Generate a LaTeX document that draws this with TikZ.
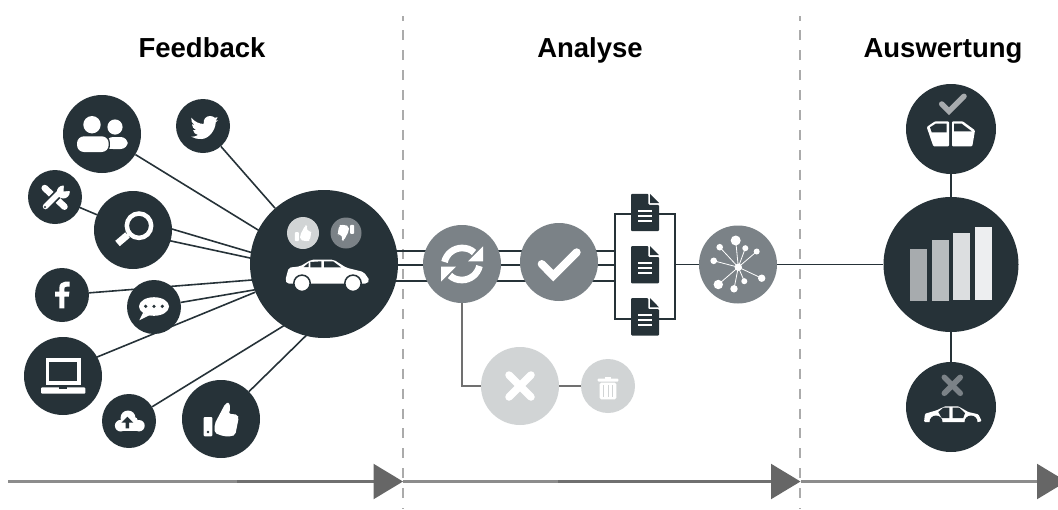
\documentclass[tikz,border=0pt]{standalone}
\usepackage{fontspec}
\setmainfont{Liberation Sans}
\usetikzlibrary{arrows.meta,backgrounds}

\definecolor{slate}{HTML}{263238}
\definecolor{midgrey}{HTML}{7B8287}
\definecolor{litegrey}{HTML}{D1D4D5}
\definecolor{rulegrey}{HTML}{ABABAB}
\definecolor{flowgrey}{HTML}{8C8C8C}
\definecolor{flowdark}{HTML}{707070}
\definecolor{headgrey}{HTML}{666666}
\definecolor{bar1}{HTML}{A7ABAE}
\definecolor{bar2}{HTML}{B8BCBE}
\definecolor{bar3}{HTML}{DCDEE0}
\definecolor{bar4}{HTML}{EDEEF0}

\tikzset{
  big/.style={circle,fill=slate,inner sep=0pt,minimum size=78pt},
  small/.style={circle,fill=slate,inner sep=0pt,minimum size=54pt},
  wire/.style={draw=slate,line width=1.6pt},
  greywire/.style={draw=flowdark,line width=1.6pt},
  divider/.style={draw=rulegrey,line width=1.7pt,dash pattern=on 10pt off 9.9pt,dash phase=5.5pt},
  flow/.style={draw=flowgrey,line width=2.2pt},
  flowend/.style={draw=flowdark,line width=2.2pt,-{Triangle[length=29.5pt,width=35pt,fill=headgrey,color=headgrey]}},
  heading/.style={anchor=base,font=\fontsize{27.5}{27.5}\selectfont\bfseries,text=black},
  paper/.style={inner sep=0pt,minimum width=28pt,minimum height=37pt}
}

\newcommand{\thumbicon}{
  \fill[rounded corners=1pt] (-17.3,-2) rectangle (-8.7,17.3);
  \fill[rounded corners=2pt] (-6.3,4.7) -- (4.3,-15.3) -- (7.7,-17) -- (9.6,-11) -- (7.7,-5.3)
    -- (16.7,-4.3) -- (17.7,-1) -- (14.3,15.7) -- (11,17.3) -- (2.7,17.3) -- (-6.3,14) -- cycle;
}

\newcommand{\docicon}{
  \fill[slate,rounded corners=1pt] (-14,-18.7) -- (3.3,-18.7) -- (3.3,-7.7) -- (14,-7.7)
    -- (14,18.7) -- (-14,18.7) -- cycle;
  \fill[slate] (5,-18.7) -- (14,-9.5) -- (5,-9.5) -- cycle;
  \draw[white,line width=2.2pt] (-7,-1.7) -- (7,-1.7);
  \draw[white,line width=2.2pt] (-7,3.3) -- (7,3.3);
  \draw[white,line width=2.2pt] (-7,8.3) -- (7,8.3);
}

\newcommand{\synchalf}{
  \draw[white,line width=6.7pt] (-17.5,-2) .. controls (-15.5,-10.5) and (-8,-16) .. (0,-16)
    .. controls (5,-16) and (9,-14.5) .. (12,-11.5);
  \fill[white] (21,-17.7) -- (21,-2.7) -- (6,-2.7) -- cycle;
}

\begin{document}
\begin{tikzpicture}[x=1pt,y=-1pt]
  \useasboundingbox (0,0) rectangle (1058,509);
  \clip (0,0) rectangle (1058,509);

  \node [heading] (feedback) at (202,57.5) {Feedback};
  \node [heading] (analyse) at (590,57.5) {Analyse};
  \node [heading] (auswertung) at (943,57.5) {Auswertung};

  % feedback sources
  \node [big] (people) at (102,134) {};
  \node [small] (twitter) at (203,126) {};
  \node [small] (tools) at (55,197) {};
  \node [big] (search) at (133,230) {};
  \node [small] (facebook) at (62,295) {};
  \node [small] (chat) at (154,307) {};
  \node [big] (laptop) at (63,376) {};
  \node [small] (cloud) at (129,421) {};
  \node [big] (thumb) at (221,419) {};
  \node [circle,fill=slate,inner sep=0pt,minimum size=148pt] (car) at (324,264) {};
  \node [circle,fill=litegrey,inner sep=0pt,minimum size=32pt] (carup) at (303,233) {};
  \node [circle,fill=midgrey,inner sep=0pt,minimum size=31pt] (cardown) at (346,233) {};

  % analysis
  \node [big,fill=midgrey] (sync) at (462,264) {};
  \node [big,fill=midgrey] (check) at (559,262) {};
  \node [paper] (doc1) at (645,212.5) {};
  \node [paper] (doc2) at (645,264.7) {};
  \node [paper] (doc3) at (645,316.8) {};
  \node [big,fill=midgrey] (network) at (738,264.5) {};
  \node [big,fill=litegrey] (reject) at (520,386) {};
  \node [small,fill=litegrey] (trash) at (608,386) {};

  % results
  \node [circle,fill=slate,inner sep=0pt,minimum size=135pt] (bars) at (951,264.5) {};
  \node [circle,fill=slate,inner sep=0pt,minimum size=90pt] (doors) at (951,129) {};
  \node [circle,fill=slate,inner sep=0pt,minimum size=90pt] (wreck) at (951,407) {};

  \coordinate (brk1) at (615,251);
  \coordinate (brk2) at (615,265);
  \coordinate (brk3) at (615,281);
  \coordinate (brktl) at (615,214);
  \coordinate (brkbr) at (675,319);
  \coordinate (brkr) at (675,264.5);
  \coordinate (hitpeople) at (324,270.5);
  \coordinate (srcsearch1) at (133,217.5);
  \coordinate (srcsearch2) at (133,232.8);
  \coordinate (hitsearch1) at (270,258);
  \coordinate (hitsearch2) at (270,262.3);
  \coordinate (hitfacebook) at (324,274.3);
  \coordinate (hitchat) at (324,278);
  \coordinate (srclaptop) at (63,371);
  \coordinate (hitcloud) at (324,301);
  \coordinate (hitthumb) at (324,318);

  \coordinate (line1a) at (8,481.5);
  \coordinate (line1b) at (237,481.5);
  \coordinate (line1c) at (403,481.5);
  \coordinate (line2b) at (558,481.5);
  \coordinate (line2c) at (800.5,481.5);
  \coordinate (line3c) at (1066.5,481.5);
  \coordinate (cut1a) at (403,16);
  \coordinate (cut1b) at (403,509);
  \coordinate (cut2a) at (800,16);
  \coordinate (cut2b) at (800,509);

  \begin{scope}[on background layer]
    \draw [divider] (cut1a) -- (cut1b);
    \draw [divider] (cut2a) -- (cut2b);

    \draw [wire] (people) -- (hitpeople);
    \draw [wire] (twitter) -- (car);
    \draw [wire] (tools) -- (search);
    \draw [wire] (srcsearch1) -- (hitsearch1);
    \draw [wire] (srcsearch2) -- (hitsearch2);
    \draw [wire] (facebook) -- (hitfacebook);
    \draw [wire] (chat) -- (hitchat);
    \draw [wire] (srclaptop) -- (car);
    \draw [wire] (cloud) -- (hitcloud);
    \draw [wire] (thumb) -- (hitthumb);

    \draw [wire] (car |- brk1) -- (brk1);
    \draw [wire] (car |- brk2) -- (brk2);
    \draw [wire] (car |- brk3) -- (brk3);
    \draw [wire] (brktl) rectangle (brkbr);
    \draw [wire] (brkr) -- (network);
    \draw [wire] (network) -- (bars);
    \draw [greywire] (sync) |- (reject);
    \draw [greywire] (reject) -- (trash);
    \draw [wire] (doors) -- (bars);
    \draw [wire] (bars) -- (wreck);
  \end{scope}

  \draw [flow] (line1a) -- (line1b);
  \draw [flowend] (line1b) -- (line1c);
  \draw [flow] (line1c) -- (line2b);
  \draw [flowend] (line2b) -- (line2c);
  \draw [flowend,draw=flowgrey] (line2c) -- (line3c);

  % people
  \begin{scope}[shift={(people)}]
    \fill[white] (-10,-9.3) circle (8.7);
    \fill[white] (13,-7) circle (7.6);
    \fill[white,rounded corners=7pt] (4,15) -- (25.7,15) -- (25.7,3) -- (4,3) -- cycle;
    \fill[white] (4,7) rectangle (12,15);
    \fill[slate,rounded corners=7pt] (-26,19) rectangle (7.9,1.3);
    \fill[white,rounded corners=7pt] (-25,18) -- (6.7,18) -- (6.7,2.3) -- (-25,2.3) -- cycle;
  \end{scope}

  % twitter
  \begin{scope}[shift={(twitter)}]
    \fill[white] (-11.7,-8.3) .. controls (-8,-4) and (-4,-2.2) .. (0.7,-2)
      .. controls (0,-7) and (3,-10) .. (7.3,-10) .. controls (9,-10) and (10.5,-9.2) .. (11.7,-8.3)
      -- (14.7,-8.7) -- (12.7,-5.3) -- (15,-5.8) -- (12.7,-3.6)
      .. controls (12.5,4) and (6,13) .. (-1.7,13) .. controls (-6,13) and (-9,12.3) .. (-11.7,10.7)
      .. controls (-9,10.8) and (-7,10.3) .. (-5,9) .. controls (-7.5,8.7) and (-9.5,6.5) .. (-10,4)
      -- (-7,4) .. controls (-9.5,3) and (-11,0.5) .. (-11,-1.7) -- (-8.3,-1)
      .. controls (-11,-3) and (-12.5,-5.5) .. (-11.7,-8.3) -- cycle;
  \end{scope}

  % tools
  \begin{scope}[shift={(tools)}]
    \draw[white,line width=6.5pt,line cap=round] (-10.3,-9) -- (9.5,9.7);
    \draw[slate,line width=9pt] (-7,7) -- (3,-3);
    \draw[white,line width=5.5pt,line cap=round] (-9.5,9.5) -- (3.5,-3.5);
    \fill[white] (8.3,-5) circle (6.5);
    \fill[slate] (8.6,-5.5) -- (9,-14) -- (17,-6.5) -- cycle;
    \fill[slate] (-10,10) circle (1.2);
  \end{scope}

  % search
  \begin{scope}[shift={(search)}]
    \draw[white,line width=4.5pt] (6,-4.3) circle (12.2);
    \draw[white,line width=7pt] (-15.5,13.5) -- (-5.5,5);
    \draw[white,line width=3pt] (-7,6.2) -- (-2,2);
  \end{scope}

  % facebook
  \begin{scope}[shift={(facebook)}]
    \fill[white] (-2.7,13.3) -- (-2.7,1.7) -- (-7,1.7) -- (-7,-3.3) -- (-2.7,-3.3) -- (-2.7,-7)
      .. controls (-2.7,-11) and (0,-13.3) .. (3,-13.3) -- (7.5,-13.3) -- (7.5,-8.3) -- (4.5,-8.3)
      .. controls (2.8,-8.3) and (2.3,-7.5) .. (2.3,-6) -- (2.3,-3.3) -- (7.5,-3.3) -- (6.8,1.7)
      -- (2.3,1.7) -- (2.3,13.3) -- cycle;
  \end{scope}

  % chat
  \begin{scope}[shift={(chat)}]
    \fill[white] (0,-0.5) ellipse (15 and 9.3);
    \fill[white] (-11,6) -- (-14.7,13.3) -- (-4,8) -- cycle;
    \fill[slate] (-8.3,-0.7) circle (1.8);
    \fill[slate] (0,-0.7) circle (1.8);
    \fill[slate] (8.3,-0.7) circle (1.8);
  \end{scope}

  % laptop
  \begin{scope}[shift={(laptop)}]
    \draw[white,line width=3.5pt] (-15.5,-16.2) rectangle (16.2,6.9);
    \fill[white,rounded corners=1pt] (-22,11.3) rectangle (22.3,17.7);
    \fill[slate] (-4,11.3) rectangle (4,13);
  \end{scope}

  % cloud
  \begin{scope}[shift={(cloud)}]
    \fill[white] (-8.3,4.7) circle (5.8);
    \fill[white] (-1,-3) circle (7.5);
    \fill[white] (10,4.7) circle (5.7);
    \fill[white] (5,0) circle (4);
    \fill[white] (-8.3,2) rectangle (10,10.4);
    \fill[slate] (-1.7,-4.3) -- (4.3,1.7) -- (0,1.7) -- (0,7.3) -- (-3.3,7.3) -- (-3.3,1.7) -- (-7.7,1.7) -- cycle;
  \end{scope}

  % big thumb
  \begin{scope}[shift={(thumb)},white]
    \thumbicon
    \fill[slate] (-13,13) circle (1.3);
  \end{scope}

  % car with ratings
  \begin{scope}[shift={(carup)},scale=0.47,white]
    \thumbicon
  \end{scope}
  \begin{scope}[shift={(cardown)},scale=0.47,rotate=180,white]
    \thumbicon
  \end{scope}
  \begin{scope}[shift={(car)}]
    \fill[white,rounded corners=2pt] (-38.7,16.3) -- (-35.3,3.7) -- (-23.7,2.3) -- (-12.7,-4.3)
      -- (9.7,-4.3) -- (22.3,3.7) -- (39.7,8) -- (45.7,16.3) -- (43,19.7) -- (-37,19.7) -- cycle;
    \fill[slate] (-20.3,3) -- (-15.3,-1.3) -- (-15.3,3) -- cycle;
    \fill[slate] (-13.7,-2) -- (-2.7,-2.7) -- (-2.7,3.3) -- (-13.7,3.3) -- cycle;
    \fill[slate] (0,-2.7) -- (9,-2.7) -- (17,3.3) -- (0,3.3) -- cycle;
    \filldraw[fill=white,draw=slate,line width=1.5pt] (-22,19.3) circle (8.2);
    \filldraw[fill=white,draw=slate,line width=1.5pt] (29,19.3) circle (8.2);
  \end{scope}

  % sync
  \begin{scope}[shift={(sync)}]
    \synchalf
  \end{scope}
  \begin{scope}[shift={(sync)},rotate=180]
    \synchalf
  \end{scope}

  % check
  \begin{scope}[shift={(check)}]
    \draw[white,line width=8pt,line cap=round] (-17.3,2) -- (-5.7,13.7) -- (17.7,-9.7);
  \end{scope}

  % documents
  \begin{scope}[shift={(doc1)}]
    \docicon
  \end{scope}
  \begin{scope}[shift={(doc2)}]
    \docicon
  \end{scope}
  \begin{scope}[shift={(doc3)}]
    \docicon
  \end{scope}

  % network
  \begin{scope}[shift={(network)}]
    \draw[white,line width=0.8pt] (0.3,2.7) -- (-2.3,-24);
    \draw[white,line width=0.8pt] (0.3,2.7) -- (-18.3,-17.3);
    \draw[white,line width=0.8pt] (0.3,2.7) -- (7.3,-16.3);
    \draw[white,line width=0.8pt] (0.3,2.7) -- (18.7,-13);
    \draw[white,line width=0.8pt] (0.3,2.7) -- (-24.3,-3.7);
    \draw[white,line width=0.8pt] (0.3,2.7) -- (23.7,13.7);
    \draw[white,line width=0.8pt] (0.3,2.7) -- (6.3,16.7);
    \draw[white,line width=0.8pt] (0.3,2.7) -- (-4,24.3);
    \draw[white,line width=0.8pt] (0.3,2.7) -- (-19.7,20);
    \fill[white] (0.3,2.7) circle (3.7);
    \fill[white] (-2.3,-24) circle (5);
    \fill[white] (-18.3,-17.3) circle (3.3);
    \fill[white] (7.3,-16.3) circle (3);
    \fill[white] (18.7,-13) circle (3);
    \fill[white] (-24.3,-3.7) circle (3.3);
    \fill[white] (23.7,13.7) circle (3.7);
    \fill[white] (6.3,16.7) circle (3);
    \fill[white] (-4,24.3) circle (3.7);
    \fill[white] (-19.7,20) circle (4.7);
  \end{scope}

  % rejected
  \begin{scope}[shift={(reject)}]
    \draw[white,line width=7.5pt,line cap=round] (-11,-11) -- (11,11);
    \draw[white,line width=7.5pt,line cap=round] (-11,11) -- (11,-11);
  \end{scope}
  \begin{scope}[shift={(trash)}]
    \fill[white,rounded corners=1pt] (-10.3,-7.5) rectangle (10.3,-4.3);
    \fill[white] (-3,-8.8) rectangle (3,-7);
    \fill[white,rounded corners=1.5pt] (-8.3,-3.3) rectangle (8.3,13.3);
    \draw[litegrey,line width=1pt] (-4.3,-1) -- (-4.3,10.7);
    \draw[litegrey,line width=1pt] (0,-1) -- (0,10.7);
    \draw[litegrey,line width=1pt] (4.3,-1) -- (4.3,10.7);
  \end{scope}

  % bars
  \fill[bar1] (910,249) rectangle (927,301);
  \fill[bar2] (932,240) rectangle (949,301);
  \fill[bar3] (953,233) rectangle (970,300);
  \fill[bar4] (975,227) rectangle (992,300);

  % doors
  \begin{scope}[shift={(doors)}]
    \draw[bar1,line width=5.5pt,line cap=round] (-9.3,-25) -- (-2,-17.7) -- (13,-32.7);
    \fill[white,rounded corners=1pt] (-24.3,-2) -- (-16,-7.7) -- (-2,-7.7) -- (-2,17.3) -- (-17.7,17.3) -- cycle;
    \fill[slate] (-21,-1.7) -- (-15.3,-5.3) -- (-4.3,-5.3) -- (-4.3,3.3) -- (-19.3,3.3) -- cycle;
    \fill[white,rounded corners=1pt] (1,-7.7) -- (11.7,-7.7) -- (24,1.3) -- (21.3,17.3) -- (1,17.3) -- cycle;
    \fill[slate] (3,-5.3) -- (10.7,-5.3) -- (20.7,2.3) -- (3,2.3) -- cycle;
  \end{scope}

  % stripped car
  \begin{scope}[shift={(wreck)}]
    \draw[midgrey,line width=5.5pt,line cap=round] (-6.7,-29.7) -- (9.3,-13.7);
    \draw[midgrey,line width=5.5pt,line cap=round] (-6.7,-13.7) -- (9.3,-29.7);
    \fill[white,rounded corners=1pt] (-27,15) -- (-26,6.7) -- (-14.3,3.3) -- (-6,-0.7) -- (7.3,-0.7)
      -- (17.3,5) -- (27.3,7.3) -- (30.7,14) -- (28,15) -- cycle;
    \fill[slate] (-15,15) circle (6.5);
    \fill[slate] (20,15) circle (6.5);
    \fill[slate] (-12.7,5) -- (-7.7,0.7) -- (-1.7,0.7) -- (-1.7,11) -- (-9.3,11) -- cycle;
    \fill[slate] (1.7,0.7) -- (8.3,0.7) -- (14,6) -- (12.3,11) -- (1.7,11) -- cycle;
  \end{scope}
\end{tikzpicture}
\end{document}
